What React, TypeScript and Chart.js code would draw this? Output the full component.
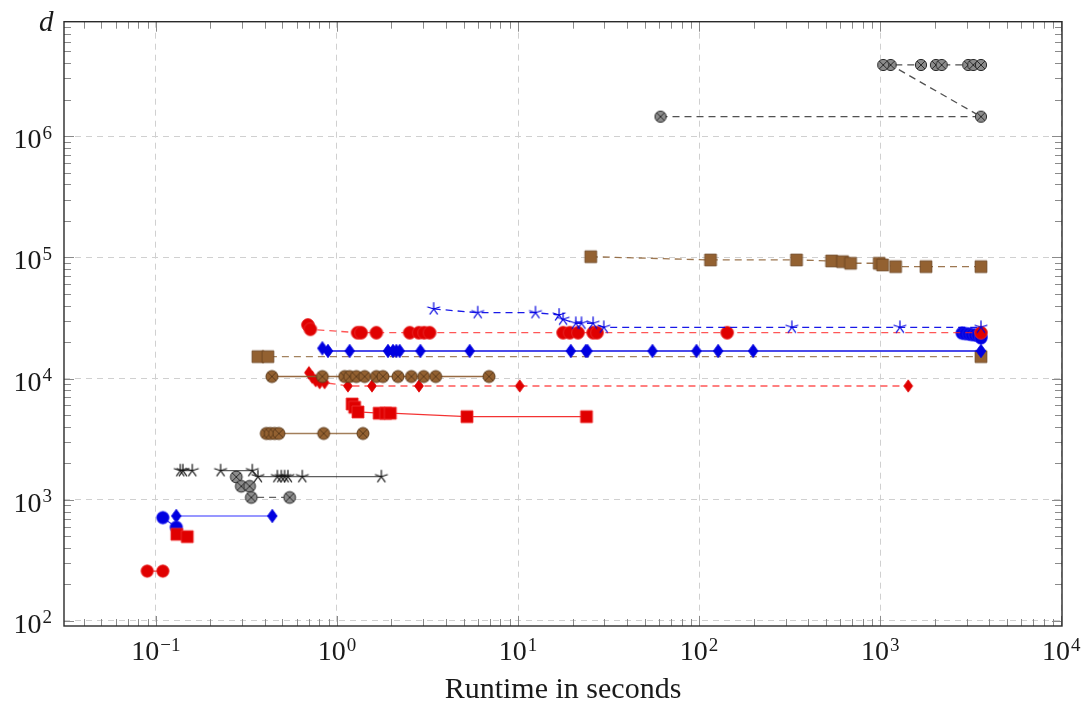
import React, { useEffect, useRef } from 'react';
import { Chart, registerables } from 'chart.js';

Chart.register(...registerables);

// ---------- axes ----------
const X_MIN = 0.0311;
const X_MAX = 10090;
const Y_MIN = 90.9;
const Y_MAX = 8.8e6;
const X_TICKS = [0.1, 1, 10, 100, 1000, 10000];
const X_TICK_EXP = ['−1', '0', '1', '2', '3', '4'];
const Y_TICKS = [100, 1000, 10000, 100000, 1000000];
const Y_TICK_EXP = ['2', '3', '4', '5', '6'];
const X_TITLE = 'Runtime in seconds';
const Y_TITLE = 'd';

// ---------- data (runtime in s, d) ----------
const redCircSmallX = [0.0896, 0.1093];
const redCircSmallY = [258, 258];

const blueCircSmallX = [0.1093, 0.1297];
const blueCircSmallY = [712, 593];

const redSqSmallX = [0.1306, 0.1491];
const redSqSmallY = [519, 496];

const blueDiaSmallX = [0.1297, 0.4396];
const blueDiaSmallY = [735, 735];

const starAX = [0.1364, 0.141, 0.1589];
const starAY = [1739, 1739, 1739];

const starBX = [0.2278, 0.3408, 0.366, 0.4685, 0.4929, 0.514, 0.536, 0.6437, 1.759];
const starBY = [1739, 1739, 1551, 1551, 1551, 1551, 1551, 1551, 1551];

const grayLowX = [0.278, 0.2963, 0.3294, 0.3366, 0.548];
const grayLowY = [1542, 1292, 1292, 1045, 1045];

const brownOtLowX = [0.4073, 0.4286, 0.4525, 0.478, 0.8444, 1.392];
const brownOtLowY = [3524, 3524, 3524, 3524, 3524, 3524];

const redSqMidX = [1.213, 1.2525, 1.306, 1.711, 1.858, 1.972, 5.226, 23.87];
const redSqMidY = [6172, 5798, 5300, 5180, 5180, 5180, 4849, 4849];

const redDiaX = [0.7003, 0.731, 0.7628, 0.8024, 0.855, 1.15, 1.561, 2.838, 10.22, 1428];
const redDiaY = [11190, 10250, 9611, 9253, 9253, 8688, 8688, 8688, 8688, 8688];

const brownOtMidX = [0.4374, 0.8303, 1.103, 1.175, 1.28, 1.422, 1.651, 1.795, 2.173, 2.577, 3.013, 3.51, 6.916];
const brownOtMidY = [10400, 10400, 10400, 10400, 10400, 10400, 10400, 10400, 10400, 10400, 10400, 10400, 10400];

const brownSqMidX = [0.366, 0.4156, 3600];
const brownSqMidY = [15160, 15160, 15160];

const blueDiaMidX = [0.8303, 0.892, 1.175, 1.913, 2.039, 2.129, 2.221, 2.889, 5.409, 19.55, 23.66, 24.18, 55.27, 96.7, 127.4, 198.8, 3600];
const blueDiaMidY = [17780, 16890, 16890, 16890, 16890, 16890, 16890, 16890, 16890, 16890, 16890, 16890, 16890, 16890, 16890, 16890, 16890];

const blueCircBigX = [2830, 2950, 3080, 3200, 3330, 3460, 3600, 3600];
const blueCircBigY = [23700, 23500, 23300, 23100, 22900, 22700, 22300, 21600];

const redCircMidX = [0.6914, 0.7129, 1.3, 1.36, 1.651, 2.522, 2.83, 3.03, 3.25, 17.73, 19.3, 21.45, 25.97, 27.32, 142.8, 3600];
const redCircMidY = [27680, 25510, 23910, 23910, 23910, 23910, 23910, 23910, 23910, 23910, 23910, 23910, 23910, 23910, 23910, 23910];

const blueStarX = [3.421, 5.988, 12.48, 16.85, 17.73, 20.84, 22.4, 25.97, 29.75, 325.2, 1285, 3600];
const blueStarY = [37520, 34980, 34980, 33470, 30850, 28600, 28600, 28600, 26500, 26500, 26500, 26500];

const brownSqTopX = [25.22, 115.6, 345.2, 538.9, 619.8, 686.4, 987.4, 1031, 1216, 1789, 3600];
const brownSqTopY = [101300, 95200, 95200, 93400, 92150, 89400, 89400, 86560, 83800, 83800, 83800];

const grayTopX = [61.2, 3600, 1141, 1039, 1679, 2031, 2184, 3063, 3265, 3600];
const grayTopY = [1449000, 1449000, 3870000, 3870000, 3870000, 3870000, 3870000, 3870000, 3870000, 3870000];

// ---------- styles ----------
const RED = '#e00000';
const BLUE = '#0000e0';
const BROWN = '#936131';
const GRAY = '#8c8c8c';

type MarkKind = 'circle' | 'square' | 'diamond' | 'star' | 'otimes';

function makeMark(kind: MarkKind, fill: string, stroke: string, size: number): HTMLCanvasElement {
  const cv = document.createElement('canvas');
  const S = 20;
  cv.width = S;
  cv.height = S;
  const c = cv.getContext('2d') as CanvasRenderingContext2D;
  const m = S / 2;
  c.lineJoin = 'round';
  if (kind === 'circle') {
    c.beginPath();
    c.arc(m, m, size, 0, Math.PI * 2);
    c.fillStyle = fill;
    c.fill();
    c.lineWidth = 0.8;
    c.strokeStyle = stroke;
    c.stroke();
  } else if (kind === 'square') {
    c.fillStyle = fill;
    c.fillRect(m - size, m - size, size * 2, size * 2);
    c.lineWidth = 0.8;
    c.strokeStyle = stroke;
    c.strokeRect(m - size, m - size, size * 2, size * 2);
  } else if (kind === 'diamond') {
    const w = size * 0.72;
    c.beginPath();
    c.moveTo(m, m - size);
    c.lineTo(m + w, m);
    c.lineTo(m, m + size);
    c.lineTo(m - w, m);
    c.closePath();
    c.fillStyle = fill;
    c.fill();
    c.lineWidth = 0.7;
    c.strokeStyle = stroke;
    c.stroke();
  } else if (kind === 'star') {
    c.strokeStyle = stroke;
    c.lineWidth = 1.2;
    c.lineCap = 'round';
    c.beginPath();
    for (let k = 0; k < 5; k++) {
      const a = -Math.PI / 2 + (k * 2 * Math.PI) / 5;
      c.moveTo(m, m);
      c.lineTo(m + size * Math.cos(a), m + size * Math.sin(a));
    }
    c.stroke();
  } else {
    c.beginPath();
    c.arc(m, m, size, 0, Math.PI * 2);
    c.fillStyle = fill;
    c.fill();
    c.lineWidth = 1;
    c.strokeStyle = stroke;
    c.stroke();
    const d = size * Math.SQRT1_2;
    c.beginPath();
    c.moveTo(m - d, m - d);
    c.lineTo(m + d, m + d);
    c.moveTo(m + d, m - d);
    c.lineTo(m - d, m + d);
    c.lineWidth = 1;
    c.stroke();
  }
  return cv;
}

interface SeriesDef {
  xs: number[];
  ys: number[];
  mark: MarkKind;
  fill: string;
  stroke: string;
  size: number;
  line: string;
  dashed: boolean;
}

const SERIES: SeriesDef[] = [
  { xs: redCircSmallX, ys: redCircSmallY, mark: 'circle', fill: RED, stroke: '#e83030', size: 6.2, line: 'rgba(230,0,0,0.75)', dashed: false },
  { xs: blueDiaSmallX, ys: blueDiaSmallY, mark: 'diamond', fill: BLUE, stroke: BLUE, size: 6.8, line: 'rgba(70,70,255,0.75)', dashed: false },
  { xs: blueCircSmallX, ys: blueCircSmallY, mark: 'circle', fill: BLUE, stroke: '#2020f0', size: 6.2, line: 'rgba(0,0,230,0.75)', dashed: false },
  { xs: redSqSmallX, ys: redSqSmallY, mark: 'square', fill: RED, stroke: '#f03030', size: 6, line: 'rgba(230,0,0,0.75)', dashed: false },
  { xs: starAX, ys: starAY, mark: 'star', fill: '#111', stroke: '#111', size: 6.3, line: 'rgba(40,40,40,0.75)', dashed: false },
  { xs: grayLowX, ys: grayLowY, mark: 'otimes', fill: GRAY, stroke: '#2a2a2a', size: 5.9, line: 'rgba(60,60,60,0.8)', dashed: true },
  { xs: starBX, ys: starBY, mark: 'star', fill: '#111', stroke: '#111', size: 6.3, line: 'rgba(40,40,40,0.75)', dashed: false },
  { xs: brownOtLowX, ys: brownOtLowY, mark: 'otimes', fill: BROWN, stroke: '#5e3c1c', size: 6, line: 'rgba(140,95,50,0.8)', dashed: false },
  { xs: redSqMidX, ys: redSqMidY, mark: 'square', fill: RED, stroke: '#f03030', size: 6, line: 'rgba(240,0,0,0.8)', dashed: false },
  { xs: redDiaX, ys: redDiaY, mark: 'diamond', fill: RED, stroke: RED, size: 6.2, line: 'rgba(255,30,30,0.75)', dashed: true },
  { xs: brownOtMidX, ys: brownOtMidY, mark: 'otimes', fill: BROWN, stroke: '#5e3c1c', size: 6, line: 'rgba(140,90,45,0.9)', dashed: false },
  { xs: brownSqMidX, ys: brownSqMidY, mark: 'square', fill: BROWN, stroke: '#6b4422', size: 5.9, line: 'rgba(140,100,55,0.8)', dashed: true },
  { xs: blueDiaMidX, ys: blueDiaMidY, mark: 'diamond', fill: BLUE, stroke: BLUE, size: 6.8, line: 'rgba(0,0,225,0.95)', dashed: false },
  { xs: blueCircBigX, ys: blueCircBigY, mark: 'circle', fill: BLUE, stroke: '#2020f0', size: 6.2, line: 'rgba(0,0,230,0.8)', dashed: false },
  { xs: redCircMidX, ys: redCircMidY, mark: 'circle', fill: RED, stroke: '#e83030', size: 6.4, line: 'rgba(255,30,30,0.75)', dashed: true },
  { xs: blueStarX, ys: blueStarY, mark: 'star', fill: BLUE, stroke: BLUE, size: 6.3, line: 'rgba(0,0,230,0.9)', dashed: true },
  { xs: brownSqTopX, ys: brownSqTopY, mark: 'square', fill: BROWN, stroke: '#6b4422', size: 5.9, line: 'rgba(140,95,50,0.85)', dashed: true },
  { xs: grayTopX, ys: grayTopY, mark: 'otimes', fill: GRAY, stroke: '#2a2a2a', size: 5.6, line: 'rgba(50,50,50,0.85)', dashed: true },
];

const SERIF = '"Liberation Serif", "DejaVu Serif", serif';

function drawPow(ctx: CanvasRenderingContext2D, exp: string, x: number, base: number, align: 'center' | 'right') {
  ctx.font = `28px ${SERIF}`;
  const w10 = ctx.measureText('10').width;
  ctx.font = `19px ${SERIF}`;
  const we = ctx.measureText(exp).width;
  const total = w10 + we + 1;
  const left = align === 'center' ? x - total / 2 : x - total;
  ctx.textAlign = 'left';
  ctx.textBaseline = 'alphabetic';
  ctx.fillStyle = '#1a1a1a';
  ctx.font = `28px ${SERIF}`;
  ctx.fillText('10', left, base);
  ctx.font = `19px ${SERIF}`;
  ctx.fillText(exp, left + w10 + 1, base - 9.5);
}

const axesPlugin = {
  id: 'pgfAxes',
  afterDraw(chart: any) {
    const { ctx, chartArea: a } = chart;
    const xs = chart.scales.x;
    const ys = chart.scales.y;
    ctx.save();
    // ticks on all four sides
    ctx.strokeStyle = '#8a8a8a';
    ctx.lineWidth = 1;
    ctx.beginPath();
    for (let k = -2; k <= 4; k++) {
      for (let m = 1; m <= 9; m++) {
        const v = m * Math.pow(10, k);
        if (v < X_MIN || v > X_MAX) continue;
        const px = Math.round(xs.getPixelForValue(v)) + 0.5;
        const len = m === 1 ? 10 : 7;
        ctx.moveTo(px, a.bottom);
        ctx.lineTo(px, a.bottom - len);
        ctx.moveTo(px, a.top);
        ctx.lineTo(px, a.top + len);
      }
    }
    for (let k = 1; k <= 7; k++) {
      for (let m = 1; m <= 9; m++) {
        const v = m * Math.pow(10, k);
        if (v < Y_MIN || v > Y_MAX) continue;
        const py = Math.round(ys.getPixelForValue(v)) + 0.5;
        const len = m === 1 ? 10 : 7;
        ctx.moveTo(a.left, py);
        ctx.lineTo(a.left + len, py);
        ctx.moveTo(a.right, py);
        ctx.lineTo(a.right - len, py);
      }
    }
    ctx.stroke();
    // frame
    ctx.strokeStyle = '#2a2a2a';
    ctx.lineWidth = 1.4;
    ctx.strokeRect(a.left, a.top, a.right - a.left, a.bottom - a.top);
    // tick labels
    X_TICKS.forEach((v, i) => {
      drawPow(ctx, X_TICK_EXP[i], xs.getPixelForValue(v), a.bottom + 34, 'center');
    });
    Y_TICKS.forEach((v, i) => {
      drawPow(ctx, Y_TICK_EXP[i], 52, ys.getPixelForValue(v) + 12, 'right');
    });
    // titles
    ctx.fillStyle = '#1a1a1a';
    ctx.font = `30px ${SERIF}`;
    ctx.textAlign = 'center';
    ctx.textBaseline = 'alphabetic';
    ctx.fillText(X_TITLE, (a.left + a.right) / 2, 698);
    ctx.font = `italic 29px ${SERIF}`;
    ctx.textAlign = 'left';
    ctx.fillText(Y_TITLE, 39, 31);
    ctx.restore();
  },
};

export default function App() {
  const ref = useRef<HTMLCanvasElement | null>(null);
  useEffect(() => {
    if (!ref.current) return;
    const n = SERIES.length;
    const datasets = SERIES.map((s, i) => {
      const img = makeMark(s.mark, s.fill, s.stroke, s.size);
      return {
        data: s.xs.map((x, j) => ({ x, y: s.ys[j] })),
        borderColor: s.line,
        borderWidth: 1.3,
        borderDash: s.dashed ? [7, 5] : [],
        tension: 0,
        fill: false,
        pointStyle: img,
        pointRadius: 6,
        pointHoverRadius: 6,
        order: n - i,
      };
    });
    const chart = new Chart(ref.current, {
      type: 'line',
      data: { datasets } as any,
      options: {
        animation: false,
        responsive: false,
        maintainAspectRatio: false,
        events: [],
        layout: { padding: { left: 64, top: 21.7, right: 26, bottom: 81 } },
        plugins: { legend: { display: false }, tooltip: { enabled: false } },
        scales: {
          x: {
            type: 'logarithmic',
            min: X_MIN,
            max: X_MAX,
            afterFit: (s: any) => { s.height = 0; },
            afterBuildTicks: (s: any) => { s.ticks = X_TICKS.map((v) => ({ value: v })); },
            ticks: { display: false },
            grid: { color: '#d0d0d0', lineWidth: 1, drawTicks: false },
            border: { display: false, dash: [6, 5] },
          },
          y: {
            type: 'logarithmic',
            min: Y_MIN,
            max: Y_MAX,
            afterFit: (s: any) => { s.width = 0; },
            afterBuildTicks: (s: any) => { s.ticks = Y_TICKS.map((v) => ({ value: v })); },
            ticks: { display: false },
            grid: { color: '#d0d0d0', lineWidth: 1, drawTicks: false },
            border: { display: false, dash: [6, 5] },
          },
        },
      } as any,
      plugins: [axesPlugin],
    });
    return () => chart.destroy();
  }, []);
  return (
    <div style={{ position: 'fixed', left: 0, top: 0, width: 1088, height: 707, background: '#fff' }}>
      <canvas ref={ref} width={1088} height={707} style={{ display: 'block', width: 1088, height: 707 }} />
    </div>
  );
}
